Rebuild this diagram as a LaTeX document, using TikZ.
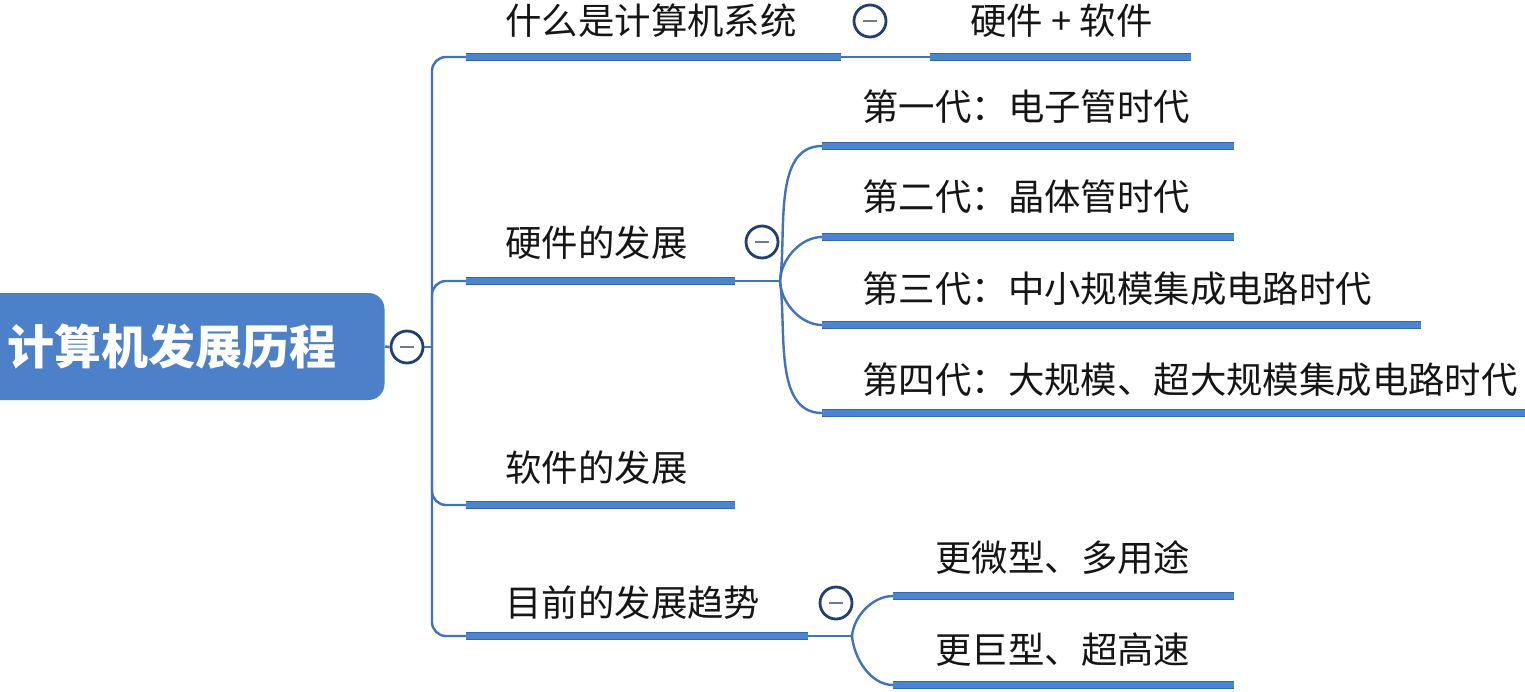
\documentclass[tikz,border=0pt]{standalone}
\usepackage{fontspec}
\newfontfamily\cjk{Noto Sans CJK SC}
\definecolor{rootblue}{HTML}{4C80C8}
\definecolor{barfill}{HTML}{4D84CE}
\definecolor{baredge}{HTML}{3566AD}
\definecolor{linkblue}{HTML}{4272B8}
\definecolor{navy}{HTML}{22406F}
\definecolor{minusgray}{HTML}{6E7A96}
\definecolor{txt}{HTML}{151515}
\begin{document}
\begin{tikzpicture}[x=0.5pt,y=-0.5pt,
  root/.style={fill=rootblue,rounded corners=8pt,minimum width=212.5pt,minimum height=53.5pt,inner sep=0pt,text=white,font=\cjk\bfseries\fontsize{23.5}{26}\selectfont},
  lbl/.style={anchor=west,inner sep=0pt,text=txt,font=\cjk\fontsize{18.2}{22}\selectfont},
  bar/.style={line width=0.5pt,draw=baredge,double=barfill,double distance=2.9pt},
  link/.style={draw=linkblue,line width=1.2pt},
  collapse/.style={circle,draw=navy,line width=1.4pt,fill=white,minimum size=16pt,inner sep=0pt},
  minus/.style={draw=minusgray,line width=1.3pt}]
\useasboundingbox (0,0) rectangle (1525,691);

% root
\node[root] (root) at (172,346.5) {计算机发展历程};
\node[collapse] (c0) at (407,347) {};
\draw[minus] ([xshift=-3.3pt]c0.center) -- ([xshift=3.3pt]c0.center);
\coordinate (t0) at (432,347);
\draw[link] (root.east) -- (c0.west);
\draw[link] (c0.east) -- (t0);

% first-level bars
\coordinate (b1s) at (466,57);  \coordinate (b1e) at (841,57);
\coordinate (b2s) at (466,281); \coordinate (b2e) at (735,281);
\coordinate (b3s) at (466,505); \coordinate (b3e) at (735,505);
\coordinate (b4s) at (466,636); \coordinate (b4e) at (808,636);

\draw[link,rounded corners=7pt] (t0) |- (b1s);
\draw[link,rounded corners=7pt] (t0) |- (b2s);
\draw[link,rounded corners=7pt] (t0) |- (b3s);
\draw[link,rounded corners=7pt] (t0) |- (b4s);

\draw[bar] (b1s) -- (b1e);
\draw[bar] (b2s) -- (b2e);
\draw[bar] (b3s) -- (b3e);
\draw[bar] (b4s) -- (b4e);

\node[lbl] (n1) at (505,21) {什么是计算机系统};
\node[lbl] (n2) at (505,243) {硬件的发展};
\node[lbl] (n3) at (505,468) {软件的发展};
\node[lbl] (n4) at (505,603) {目前的发展趋势};

% branch 1
\coordinate (a1s) at (930,57); \coordinate (a1e) at (1191,57);
\draw[link] (b1e) -- (a1s);
\draw[bar] (a1s) -- (a1e);
\node[collapse] (c1) at (870,21) {};
\draw[minus] ([xshift=-3.3pt]c1.center) -- ([xshift=3.3pt]c1.center);
\node[lbl] (m1) at (970,21) {硬件 + 软件};

% branch 2
\coordinate (j2) at (780,281);
\draw[link] (b2e) -- (j2);
\coordinate (g1s) at (822,146); \coordinate (g1e) at (1234,146);
\coordinate (g2s) at (822,237); \coordinate (g2e) at (1234,237);
\coordinate (g3s) at (822,325); \coordinate (g3e) at (1421,325);
\coordinate (g4s) at (822,413); \coordinate (g4e) at (1525,413);
\draw[link] (j2) to[out=82,in=180,looseness=0.9] (g1s);
\draw[link] (j2) to[out=88,in=180,looseness=0.9] (g2s);
\draw[link] (j2) to[out=-88,in=180,looseness=0.9] (g3s);
\draw[link] (j2) to[out=-82,in=180,looseness=0.9] (g4s);
\draw[bar] (g1s) -- (g1e);
\draw[bar] (g2s) -- (g2e);
\draw[bar] (g3s) -- (g3e);
\draw[bar] (g4s) -- (g4e);
\node[collapse] (c2) at (762,242) {};
\draw[minus] ([xshift=-3.3pt]c2.center) -- ([xshift=3.3pt]c2.center);
\node[lbl] (k1) at (862,107) {第一代：电子管时代};
\node[lbl] (k2) at (862,197) {第二代：晶体管时代};
\node[lbl] (k3) at (862,289) {第三代：中小规模集成电路时代};
\node[lbl] (k4) at (862,380) {第四代：大规模、超大规模集成电路时代};

% branch 4
\coordinate (j4) at (852,636);
\draw[link] (b4e) -- (j4);
\coordinate (h1s) at (893,596); \coordinate (h1e) at (1234,596);
\coordinate (h2s) at (893,685); \coordinate (h2e) at (1234,685);
\draw[link] (j4) to[out=85,in=180,looseness=0.9] (h1s);
\draw[link] (j4) to[out=-85,in=180,looseness=0.9] (h2s);
\draw[bar] (h1s) -- (h1e);
\draw[bar] (h2s) -- (h2e);
\node[collapse] (c4) at (836,603) {};
\draw[minus] ([xshift=-3.3pt]c4.center) -- ([xshift=3.3pt]c4.center);
\node[lbl] (p1) at (935,558) {更微型、多用途};
\node[lbl] (p2) at (935,650) {更巨型、超高速};
\end{tikzpicture}
\end{document}
